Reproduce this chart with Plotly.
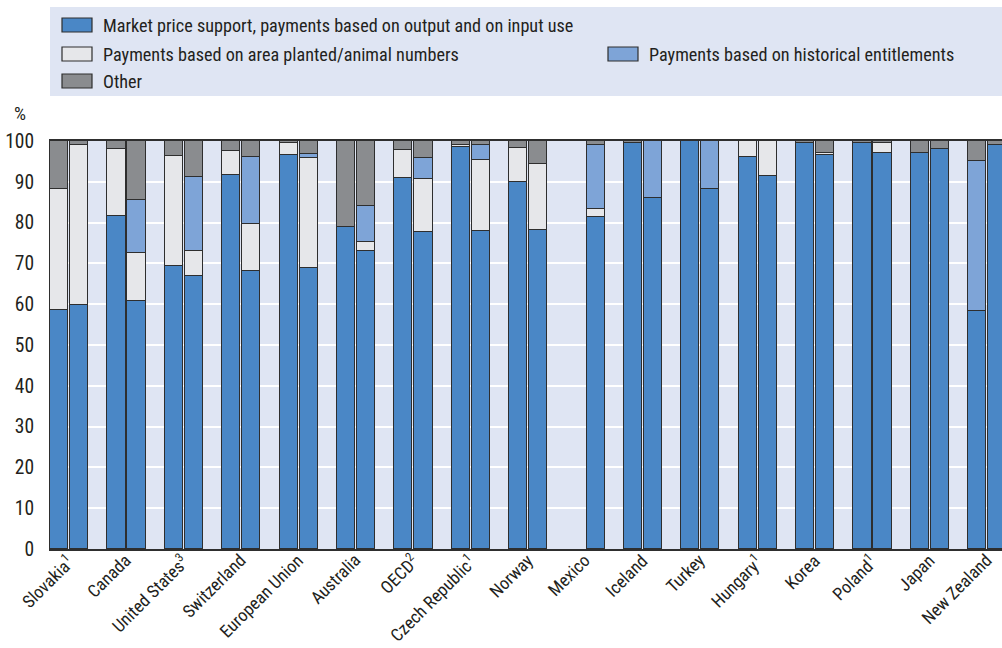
import plotly.graph_objects as go

countries = ["Slovakia<sup>1</sup>", "Canada", "United States<sup>3</sup>", "Switzerland",
             "European Union", "Australia", "OECD<sup>2</sup>", "Czech Republic<sup>1</sup>",
             "Norway", "Mexico", "Iceland", "Turkey", "Hungary<sup>1</sup>", "Korea",
             "Poland<sup>1</sup>", "Japan", "New Zealand"]

# Period 1 (left bar of each pair)
mps_1   = [58.7, 81.5, 69.4, 91.6, 96.6, 79.0, 91.0, 98.6, 89.9, None, 99.6, 100.0, 96.1, 99.6, 99.4, 97.1, 58.3]
area_1  = [29.5, 16.5, 27.0, 5.9, 2.8, 0, 6.8, 0.4, 8.4, None, 0, 0, 3.9, 0, 0, 0, 0]
hist_1  = [0, 0, 0, 0, 0, 0, 0, 0, 0, None, 0, 0, 0, 0, 0, 0, 36.9]
other_1 = [11.8, 2.0, 3.6, 2.5, 0.6, 21.0, 2.2, 1.0, 1.7, None, 0.4, 0, 0, 0.4, 0.6, 2.9, 4.8]

# Period 2 (right bar of each pair)
mps_2   = [59.7, 60.9, 66.8, 68.1, 68.8, 73.0, 77.8, 77.9, 78.2, 81.3, 86.0, 88.2, 91.4, 96.6, 97.1, 98.0, 98.9]
area_2  = [39.4, 11.6, 6.3, 11.5, 27.1, 2.2, 12.9, 17.5, 16.2, 2.0, 0, 0, 8.6, 0.5, 2.3, 0, 0]
hist_2  = [0, 13.0, 18.1, 16.5, 0.8, 8.9, 5.2, 3.5, 0, 15.6, 14.0, 11.8, 0, 0, 0, 0, 0]
other_2 = [0.9, 14.5, 8.8, 3.9, 3.3, 15.9, 4.1, 1.1, 5.6, 1.1, 0, 0, 0, 2.9, 0.6, 2.0, 1.1]

series_names = ["Market price support, payments based on output and on input use",
                "Payments based on area planted/animal numbers",
                "Payments based on historical entitlements",
                "Other"]
colors = ["#4a87c6", "#e6e7ea", "#7ea4d7", "#8a8c8f"]

FONT = "Roboto Condensed, Liberation Sans Narrow, sans-serif"
BG = "#dfe5f3"
TXT = "#231f20"

n = len(countries)
x1 = [3 * i + 0.475 for i in range(n)]
x2 = [3 * i + 1.525 for i in range(n)]
tickpos = [3 * i + 1.0 for i in range(n)]


def clean(v):
    return [None if (a is None or a == 0) else a for a in v]


fig = go.Figure()
p1 = [mps_1, area_1, hist_1, other_1]
p2 = [mps_2, area_2, hist_2, other_2]
for k in range(4):
    for xs, vals in ((x1, p1[k]), (x2, p2[k])):
        fig.add_trace(go.Bar(
            x=xs, y=clean(vals), width=0.95, name=series_names[k],
            marker=dict(color=colors[k], line=dict(color="#2e2e2e", width=1.2)),
            showlegend=False, hoverinfo="skip"))

L, T, PW, PH = 49, 141, 953, 408


def px2x(px):
    return (px - L) / PW


def py2y(py):
    return 1 + (T - py) / PH


# Legend drawn manually (two-column layout as in the original)
fig.add_shape(type="rect", xref="paper", yref="paper",
              x0=px2x(50), x1=1.0, y0=py2y(96), y1=py2y(7),
              fillcolor=BG, line=dict(width=0), layer="below")

legend_items = [(0, 62, 25), (1, 62, 54), (2, 608, 54), (3, 62, 81)]
for k, px, py in legend_items:
    fig.add_shape(type="rect", xref="paper", yref="paper",
                  x0=px2x(px), x1=px2x(px + 30), y0=py2y(py + 7), y1=py2y(py - 7),
                  fillcolor=colors[k], line=dict(color="#2e2e2e", width=1.2))
    fig.add_annotation(xref="paper", yref="paper", x=px2x(px + 39), y=py2y(py),
                       text=series_names[k], showarrow=False,
                       xanchor="left", yanchor="middle",
                       font=dict(family=FONT, size=18.2, color=TXT))

fig.add_annotation(xref="paper", yref="paper", x=px2x(20), y=py2y(113),
                   text="%", showarrow=False, xanchor="center", yanchor="middle",
                   font=dict(family=FONT, size=19, color=TXT))

# Category labels, rotated, ending just below each pair of bars
for tp, lab in zip(tickpos, countries):
    fig.add_annotation(x=tp, xref="x", xshift=10, y=py2y(549), yref="paper",
                       text=lab, textangle=-45, showarrow=False,
                       xanchor="right", yanchor="top", borderpad=0,
                       font=dict(family=FONT, size=17.6, color=TXT))

fig.update_layout(
    width=1002, height=648,
    margin=dict(l=L, r=0, t=T, b=648 - T - PH, autoexpand=False),
    paper_bgcolor="white", plot_bgcolor=BG,
    barmode="stack", bargap=0,
    font=dict(family=FONT, size=18, color=TXT),
)
fig.update_xaxes(range=[-0.05, 49.77], tickmode="array", tickvals=tickpos,
                 showticklabels=False,
                 showgrid=False, showline=True, linecolor="#2e2e2e",
                 linewidth=2, mirror=True, ticks="", zeroline=False, automargin=False)
fig.update_yaxes(range=[0, 100], tickmode="array", tickvals=list(range(0, 101, 10)),
                 showgrid=True, gridcolor="white", gridwidth=1.5, zeroline=False,
                 showline=False, ticks="outside", ticklen=10, tickcolor="rgba(0,0,0,0)",
                 automargin=False,
                 tickfont=dict(family=FONT, size=19.5, color=TXT))

fig.write_html("out.html", config={"displayModeBar": False},
               post_script="document.body.style.margin='0';")
